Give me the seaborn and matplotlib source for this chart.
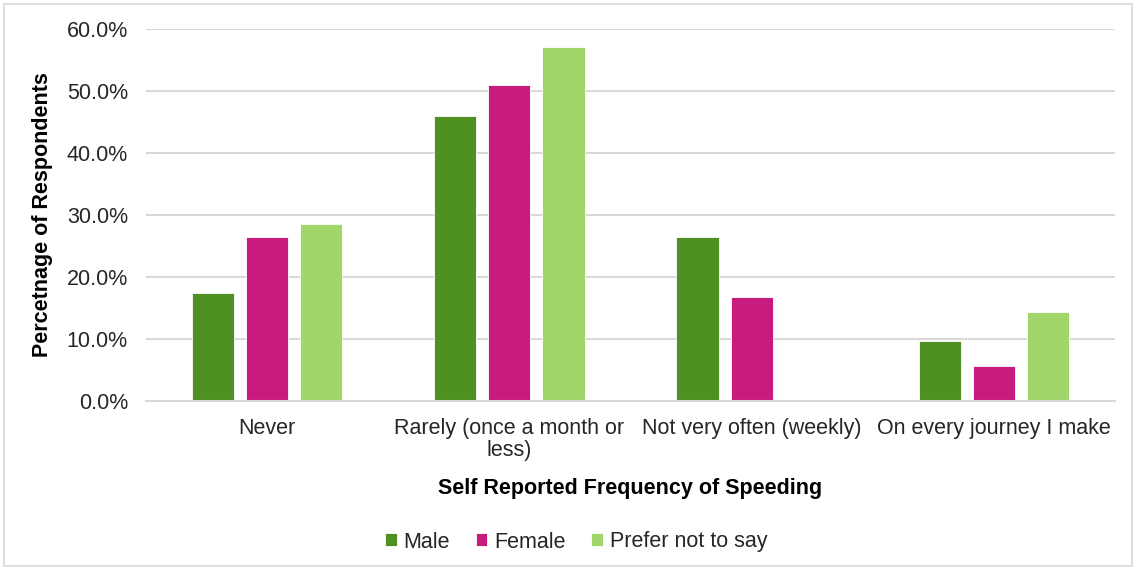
import matplotlib
matplotlib.use("Agg")
import matplotlib.pyplot as plt
import matplotlib.patches as mpatches
import seaborn as sns
import pandas as pd
from matplotlib.ticker import PercentFormatter

# Survey results: share of respondents by gender and speeding frequency
categories = ["Never", "Rarely (once a month or\nless)", "Not very often (weekly)",
              "On every journey I make"]
genders = ["Male", "Female", "Prefer not to say"]
male = [17.5, 46.0, 26.5, 9.6]
female = [26.4, 50.9, 16.7, 5.7]
prefer_not = [28.6, 57.1, 0.0, 14.3]
colors = ["#4E9122", "#C71B7D", "#A1D76A"]

rows = []
for g, vals in zip(genders, [male, female, prefer_not]):
    for c, v in zip(categories, vals):
        rows.append({"Frequency": c, "Gender": g, "Percent": v})
df = pd.DataFrame(rows)

sns.set_theme(style="white")
plt.rcParams["font.family"] = ["Liberation Sans", "DejaVu Sans"]

FS = 15.5
fig = plt.figure(figsize=(11.36, 5.70), dpi=100)
ax = fig.add_axes([146 / 1136, 1 - 401 / 570, (1115 - 146) / 1136, (401 - 29) / 570])

sns.barplot(data=df, x="Frequency", y="Percent", hue="Gender", order=categories,
            hue_order=genders, palette=colors, saturation=1, width=0.67, gap=0.22,
            edgecolor="white", linewidth=0.6, ax=ax, legend=True)

ax.set_ylim(0, 60)
ax.set_xlim(-0.5, 3.5)
ax.set_yticks(range(0, 61, 10))
ax.yaxis.set_major_formatter(PercentFormatter(decimals=1))
ax.grid(axis="y", color="#D9D9D9", linewidth=1.5)
ax.set_axisbelow(True)
for side in ["top", "right", "left"]:
    ax.spines[side].set_visible(False)
ax.spines["bottom"].set_color("#D9D9D9")
ax.spines["bottom"].set_linewidth(1.5)
ax.tick_params(axis="both", length=0, labelsize=FS, colors="#262626")
ax.tick_params(axis="y", pad=13)
ax.tick_params(axis="x", pad=12)
for lbl in ax.get_xticklabels():
    lbl.set_linespacing(1.1)

ax.set_xlabel("Self Reported Frequency of Speeding", fontsize=FS, fontweight="bold",
              color="black", labelpad=12)
ax.set_ylabel("Percetnage of Respondents", fontsize=FS, fontweight="bold",
              color="black", labelpad=10)

handles, labels = ax.get_legend_handles_labels()
ax.legend(handles, labels, loc="center", bbox_to_anchor=(576 / 1136, 1 - 542 / 570),
          bbox_transform=fig.transFigure, ncol=3, frameon=False, fontsize=FS,
          handlelength=0.55, handleheight=0.55, handletextpad=0.3, columnspacing=1.2)

fig.patches.append(mpatches.Rectangle((4 / 1136, 4 / 570), 1128 / 1136, 562 / 570,
                                      transform=fig.transFigure, fill=False,
                                      edgecolor="#D9D9D9", linewidth=1.2))

fig.savefig("out.png", dpi=100)
